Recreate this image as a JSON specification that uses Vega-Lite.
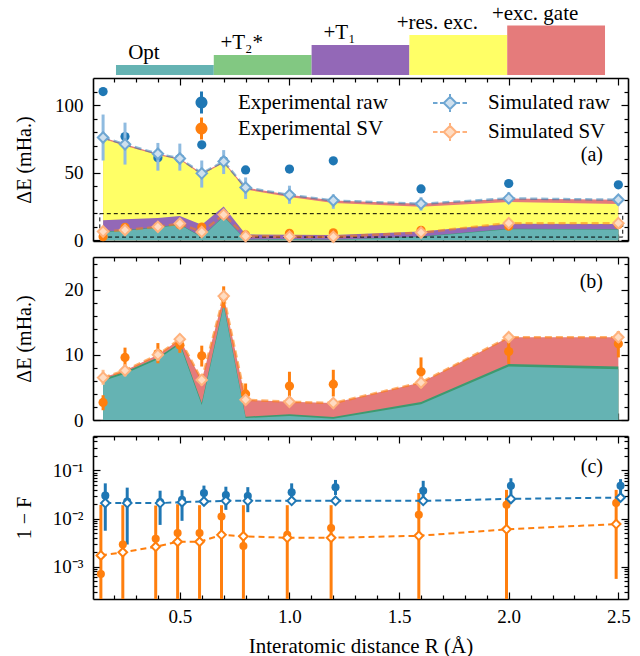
{
  "$schema": "https://vega.github.io/schema/vega-lite/v6.json",
  "padding": {"left": 14, "top": 2, "right": 5, "bottom": 0},
  "bounds": "flush",
  "spacing": 16,
  "datasets": {
    "d": [
      {"R":0.15,"opt":6.0,"t2":6.3,"t1":14.8,"res":75,"sr":76,"sr_lo":59,"sr_hi":93,"er":110,"ssv":6.5,"ssv_lo":5.4,"ssv_hi":7.7,"esv":2.7,"esv_lo":1.5,"esv_hi":3.8,"cbe":0.030,"cbe_lo":0.0056,"cbe_hi":0.054,"cbs":0.021,"coe":0.00071,"coe_lo":0.0001,"coe_hi":0.0193,"cos":0.00172},
      {"R":0.25,"opt":7.1,"t2":7.4,"t1":15.5,"res":70,"sr":71,"sr_lo":56,"sr_hi":87,"er":76.7,"ssv":7.6,"ssv_lo":6.7,"ssv_hi":8.5,"esv":9.6,"esv_lo":8.2,"esv_hi":11.1,"cbe":0.0227,"cbe_lo":0.0029,"cbe_hi":0.044,"cbs":0.021,"coe":0.0029,"coe_lo":0.0001,"coe_hi":0.019,"cos":0.0020},
      {"R":0.4,"opt":9.3,"t2":9.6,"t1":16.5,"res":63,"sr":64,"sr_lo":51.5,"sr_hi":72,"er":61,"ssv":10.0,"ssv_lo":9.1,"ssv_hi":10.9,"esv":10.2,"esv_lo":8.7,"esv_hi":11.8,"cbe":0.022,"cbe_lo":0.0074,"cbe_hi":0.038,"cbs":0.021,"coe":0.0038,"coe_lo":0.0001,"coe_hi":0.0187,"cos":0.0026},
      {"R":0.5,"opt":11.6,"t2":11.9,"t1":18,"res":59.5,"sr":60.5,"sr_lo":51.5,"sr_hi":71.5,"er":60.5,"ssv":12.4,"ssv_lo":11.6,"ssv_hi":13.2,"esv":11.5,"esv_lo":10.3,"esv_hi":12.8,"cbe":0.0246,"cbe_lo":0.009,"cbe_hi":0.039,"cbs":0.022,"coe":0.005,"coe_lo":0.0001,"coe_hi":0.0199,"cos":0.0033},
      {"R":0.6,"opt":2.3,"t2":2.6,"t1":11.6,"res":48.5,"sr":49.5,"sr_lo":39,"sr_hi":59,"er":70.6,"ssv":6.15,"ssv_lo":5.3,"ssv_hi":7.0,"esv":9.85,"esv_lo":8.2,"esv_hi":11.4,"cbe":0.034,"cbe_lo":0.0227,"cbe_hi":0.0485,"cbs":0.0227,"coe":0.005,"coe_lo":0.0001,"coe_hi":0.019,"cos":0.0033},
      {"R":0.7,"opt":17.5,"t2":17.8,"t1":25,"res":57.3,"sr":58.3,"sr_lo":49,"sr_hi":66.7,"er":58.8,"ssv":19.0,"ssv_lo":18.2,"ssv_hi":19.8,"esv":18.9,"esv_lo":17.2,"esv_hi":20.5,"cbe":0.031,"cbe_lo":0.0152,"cbe_hi":0.046,"cbs":0.0234,"coe":0.011,"coe_lo":0.0001,"coe_hi":0.019,"cos":0.0046},
      {"R":0.8,"opt":0.3,"t2":0.5,"t1":4.4,"res":37.5,"sr":39,"sr_lo":30.6,"sr_hi":46.5,"er":52,"ssv":3.1,"ssv_lo":2.3,"ssv_hi":3.9,"esv":4.0,"esv_lo":2.6,"esv_hi":5.6,"cbe":0.0296,"cbe_lo":0.0136,"cbe_hi":0.045,"cbs":0.0234,"coe":0.0027,"coe_lo":0.0001,"coe_hi":0.019,"cos":0.0043},
      {"R":1.0,"opt":0.6,"t2":0.9,"t1":4.2,"res":32,"sr":33.6,"sr_lo":27,"sr_hi":40.4,"er":52.7,"ssv":2.8,"ssv_lo":2.0,"ssv_hi":3.6,"esv":5.2,"esv_lo":3.1,"esv_hi":7.4,"cbe":0.0354,"cbe_lo":0.0227,"cbe_hi":0.054,"cbs":0.0234,"coe":0.0046,"coe_lo":0.0001,"coe_hi":0.019,"cos":0.004},
      {"R":1.2,"opt":0.2,"t2":0.45,"t1":4,"res":27.5,"sr":29.4,"sr_lo":23.3,"sr_hi":34,"er":58.8,"ssv":2.6,"ssv_lo":1.8,"ssv_hi":3.4,"esv":5.5,"esv_lo":3.6,"esv_hi":7.7,"cbe":0.0449,"cbe_lo":0.031,"cbe_hi":0.0636,"cbs":0.0234,"coe":0.0064,"coe_lo":0.0001,"coe_hi":0.019,"cos":0.004},
      {"R":1.6,"opt":2.4,"t2":2.75,"t1":6.5,"res":24.8,"sr":27,"sr_lo":22,"sr_hi":31.8,"er":38,"ssv":5.75,"ssv_lo":4.9,"ssv_hi":6.6,"esv":7.4,"esv_lo":5.6,"esv_hi":9.6,"cbe":0.038,"cbe_lo":0.0288,"cbe_hi":0.061,"cbs":0.0234,"coe":0.012,"coe_lo":0.0001,"coe_hi":0.034,"cos":0.0044},
      {"R":2.0,"opt":8.2,"t2":8.6,"t1":12.3,"res":28.3,"sr":31,"sr_lo":27,"sr_hi":35.5,"er":42,"ssv":12.7,"ssv_lo":11.9,"ssv_hi":13.5,"esv":10.5,"esv_lo":8.6,"esv_hi":12.2,"cbe":0.048,"cbe_lo":0.031,"cbe_hi":0.069,"cbs":0.0257,"coe":0.0193,"coe_lo":0.0001,"coe_hi":0.0395,"cos":0.006},
      {"R":2.5,"opt":7.8,"t2":8.2,"t1":12,"res":26.8,"sr":30,"sr_lo":25.7,"sr_hi":33,"er":41,"ssv":12.7,"ssv_lo":11.9,"ssv_hi":13.6,"esv":11.7,"esv_lo":9.6,"esv_hi":13.6,"cbe":0.048,"cbe_lo":0.031,"cbe_hi":0.066,"cbs":0.0274,"coe":0.021,"coe_lo":0.00056,"coe_hi":0.0395,"cos":0.0077}
    ],
    "box": [{"x1": 0.135, "x2": 2.52, "y1": 2.4, "y2": 19.7}],
    "strip": [
      {"level": "Opt", "n": 1},
      {"level": "+T₂*", "n": 2},
      {"level": "+T₁", "n": 3},
      {"level": "+res. exc.", "n": 4},
      {"level": "+exc. gate", "n": 4.95}
    ]
  },
  "data": {"name": "d"},
  "resolve": {"scale": {"color": "independent", "fill": "independent", "stroke": "independent"}},
  "vconcat": [
    {
      "data": {"name": "strip"},
      "width": 535,
      "height": 37,
      "view": {"stroke": null},
      "layer": [
        {
          "mark": {"type": "bar"},
          "encoding": {
            "x": {"field": "level", "type": "nominal", "sort": null, "scale": {"type": "band", "paddingInner": 0, "paddingOuter": 0.235}, "axis": null},
            "y": {"field": "n", "type": "quantitative", "scale": {"domain": [1.3, 5], "nice": false, "zero": false}, "axis": null},
            "y2": {"datum": 0},
            "color": {"field": "level", "type": "nominal", "sort": null, "scale": {"domain": ["Opt", "+T₂*", "+T₁", "+res. exc.", "+exc. gate"], "range": ["#65b3b3", "#82c882", "#9368b7", "#ffff66", "#e57b7b"]}, "legend": null}
          }
        },
        {
          "mark": {"type": "text", "baseline": "bottom", "dy": -2, "dx": -21, "fontSize": 21, "font": "Liberation Serif", "color": "black"},
          "encoding": {
            "x": {"field": "level", "type": "nominal", "sort": null, "axis": null},
            "y": {"field": "n", "type": "quantitative", "axis": null},
            "text": {"field": "level"}
          }
        }
      ]
    },
    {
      "width": 535,
      "height": 163,
      "title": {"text": "(a)", "orient": "top", "anchor": "end", "frame": "group", "offset": -98, "dx": -25, "baseline": "middle"},
      "resolve": {"axis": {"x": "independent", "y": "independent"}},
      "layer": [
        {
          "mark": {"type": "area", "color": "#e57b7b"},
          "encoding": {
            "x": {"field": "R", "type": "quantitative", "scale": {"domain": [0.104, 2.544], "nice": false, "zero": false}, "axis": {"orient": "bottom", "values": [0.5,1,1.5,2,2.5], "tickSize": -7, "labels": false, "title": null, "domain": true}},
            "y": {"field": "sr", "type": "quantitative", "scale": {"domain": [-0.5, 120], "nice": false, "zero": false}, "axis": {"orient": "left", "values": [0,50,100], "tickSize": -7, "labels": true, "labelPadding": 17, "title": "ΔE (mHa.)", "titleX": -69, "titleBaseline": "middle", "domain": true}},
            "y2": {"datum": 0}
          }
        },
        {
          "mark": {"type": "area", "color": "#ffff66"},
          "encoding": {
            "x": {"field": "R", "type": "quantitative", "axis": {"orient": "bottom", "values": [0.2,0.3,0.4,0.6,0.7,0.8,0.9,1.1,1.2,1.3,1.4,1.6,1.7,1.8,1.9,2.1,2.2,2.3,2.4], "tickSize": -4, "labels": false, "title": null, "domain": false}},
            "y": {"field": "res", "type": "quantitative", "axis": {"orient": "left", "values": [10,20,30,40,60,70,80,90,110], "tickSize": -4, "labels": false, "title": null, "domain": false}},
            "y2": {"datum": 0}
          }
        },
        {
          "mark": {"type": "area", "color": "#9368b7"},
          "encoding": {
            "x": {"field": "R", "type": "quantitative", "axis": {"orient": "top", "values": [0.5,1,1.5,2,2.5], "tickSize": -7, "labels": false, "title": null, "domain": true}},
            "y": {"field": "t1", "type": "quantitative", "axis": {"orient": "right", "values": [0,50,100], "tickSize": -7, "labels": false, "title": null, "domain": true}},
            "y2": {"datum": 0}
          }
        },
        {
          "mark": {"type": "area", "color": "#3d9a70"},
          "encoding": {
            "x": {"field": "R", "type": "quantitative", "axis": {"orient": "top", "values": [0.2,0.3,0.4,0.6,0.7,0.8,0.9,1.1,1.2,1.3,1.4,1.6,1.7,1.8,1.9,2.1,2.2,2.3,2.4], "tickSize": -4, "labels": false, "title": null, "domain": false}},
            "y": {"field": "t2", "type": "quantitative", "axis": {"orient": "right", "values": [10,20,30,40,60,70,80,90,110], "tickSize": -4, "labels": false, "title": null, "domain": false}},
            "y2": {"datum": 0}
          }
        },
        {
          "mark": {"type": "area", "color": "#65b3b3"},
          "encoding": {
            "x": {"field": "R", "type": "quantitative", "axis": null},
            "y": {"field": "opt", "type": "quantitative", "axis": null},
            "y2": {"datum": 0}
          }
        },
        {
          "data": {"name": "box"},
          "mark": {"type": "rect", "fill": null, "stroke": "black", "strokeWidth": 1, "strokeDash": [4, 3]},
          "encoding": {
            "x": {"field": "x1", "type": "quantitative", "axis": null},
            "x2": {"field": "x2"},
            "y": {"field": "y1", "type": "quantitative", "axis": null},
            "y2": {"field": "y2"}
          }
        },
        {
          "mark": {"type": "circle", "size": 85, "opacity": 1},
          "encoding": {
            "x": {"field": "R", "type": "quantitative", "axis": null},
            "y": {"field": "er", "type": "quantitative", "axis": null},
            "color": {"datum": "Experimental raw", "scale": {"domain": ["Experimental raw", "Experimental SV"], "range": ["#1f77b4", "#ff7f0e"]},
              "legend": {"title": null, "orient": "none", "legendX": 98, "legendY": 14, "symbolType": "M-0.15,-1.1H0.15V1.1H-0.15Z M0.6,0A0.6,0.6,0,1,1,-0.6,0A0.6,0.6,0,1,1,0.6,0Z", "symbolStrokeWidth": 0, "symbolOpacity": 1, "symbolSize": 400, "labelOffset": 26, "rowPadding": 3, "padding": 0, "labelFontSize": 21}}
          }
        },
        {
          "mark": {"type": "rule", "color": "#ff7f0e", "strokeWidth": 3},
          "encoding": {
            "x": {"field": "R", "type": "quantitative", "axis": null},
            "y": {"field": "esv_lo", "type": "quantitative", "axis": null},
            "y2": {"field": "esv_hi"}
          }
        },
        {
          "mark": {"type": "circle", "size": 85, "opacity": 1},
          "encoding": {
            "x": {"field": "R", "type": "quantitative", "axis": null},
            "y": {"field": "esv", "type": "quantitative", "axis": null},
            "color": {"datum": "Experimental SV"}
          }
        },
        {
          "mark": {"type": "rule", "color": "#8fbbe0", "strokeWidth": 3},
          "encoding": {
            "x": {"field": "R", "type": "quantitative", "axis": null},
            "y": {"field": "sr_lo", "type": "quantitative", "axis": null},
            "y2": {"field": "sr_hi"}
          }
        },
        {
          "mark": {"type": "line", "color": "#1f77b4", "opacity": 0.5, "strokeWidth": 2.5, "strokeDash": [7, 4]},
          "encoding": {
            "x": {"field": "R", "type": "quantitative", "axis": null},
            "y": {"field": "sr", "type": "quantitative", "axis": null}
          }
        },
        {
          "mark": {"type": "rule", "color": "#ffc08e", "strokeWidth": 3},
          "encoding": {
            "x": {"field": "R", "type": "quantitative", "axis": null},
            "y": {"field": "ssv_lo", "type": "quantitative", "axis": null},
            "y2": {"field": "ssv_hi"}
          }
        },
        {
          "mark": {"type": "line", "color": "#ff7f0e", "opacity": 0.55, "strokeWidth": 2.5, "strokeDash": [7, 4]},
          "encoding": {
            "x": {"field": "R", "type": "quantitative", "axis": null},
            "y": {"field": "ssv", "type": "quantitative", "axis": null}
          }
        },
        {
          "mark": {"type": "point", "shape": "diamond", "filled": true, "size": 110, "strokeWidth": 2, "opacity": 1},
          "encoding": {
            "x": {"field": "R", "type": "quantitative", "axis": null},
            "y": {"field": "sr", "type": "quantitative", "axis": null},
            "stroke": {"datum": "Simulated raw", "scale": {"domain": ["Simulated raw", "Simulated SV"], "range": ["#6ea6d2", "#ffb27d"]},
              "legend": {"title": null, "orient": "none", "legendX": 346, "legendY": 14, "symbolType": "M-1.7,0H-1.25M-1,0H-0.62M0.62,0H1M1.25,0H1.7M0,-0.9V-0.62M0,0.62V0.9M0,-0.62L0.62,0L0,0.62L-0.62,0Z", "symbolStrokeWidth": 2, "symbolOpacity": 1, "symbolSize": 400, "labelOffset": 27, "rowPadding": 3, "padding": 0, "labelFontSize": 21}},
            "fill": {"datum": "Simulated raw", "scale": {"domain": ["Simulated raw", "Simulated SV"], "range": ["#cfe0ee", "#ffdcc2"]},
              "legend": {"title": null, "orient": "none", "legendX": 346, "legendY": 14, "symbolType": "M-1.7,0H-1.25M-1,0H-0.62M0.62,0H1M1.25,0H1.7M0,-0.9V-0.62M0,0.62V0.9M0,-0.62L0.62,0L0,0.62L-0.62,0Z", "symbolStrokeWidth": 2, "symbolOpacity": 1, "symbolSize": 400, "labelOffset": 27, "rowPadding": 3, "padding": 0, "labelFontSize": 21}}
          }
        },
        {
          "mark": {"type": "point", "shape": "diamond", "filled": true, "size": 110, "strokeWidth": 2, "opacity": 1},
          "encoding": {
            "x": {"field": "R", "type": "quantitative", "axis": null},
            "y": {"field": "ssv", "type": "quantitative", "axis": null},
            "stroke": {"datum": "Simulated SV"},
            "fill": {"datum": "Simulated SV"}
          }
        }
      ]
    },
    {
      "width": 535,
      "height": 163,
      "title": {"text": "(b)", "orient": "top", "anchor": "end", "frame": "group", "offset": -46, "dx": -25, "baseline": "middle"},
      "resolve": {"axis": {"x": "independent", "y": "independent"}},
      "layer": [
        {
          "mark": {"type": "area", "color": "#e57b7b"},
          "encoding": {
            "x": {"field": "R", "type": "quantitative", "scale": {"domain": [0.104, 2.544], "nice": false, "zero": false}, "axis": {"orient": "bottom", "values": [0.5,1,1.5,2,2.5], "tickSize": -7, "labels": false, "title": null, "domain": true}},
            "y": {"field": "ssv", "type": "quantitative", "scale": {"domain": [0, 25], "nice": false, "zero": false}, "axis": {"orient": "left", "values": [0,10,20], "tickSize": -7, "labels": true, "labelPadding": 17, "title": "ΔE (mHa.)", "titleX": -69, "titleBaseline": "middle", "domain": true}},
            "y2": {"datum": 0}
          }
        },
        {
          "mark": {"type": "area", "color": "#3d9a70"},
          "encoding": {
            "x": {"field": "R", "type": "quantitative", "axis": {"orient": "bottom", "values": [0.2,0.3,0.4,0.6,0.7,0.8,0.9,1.1,1.2,1.3,1.4,1.6,1.7,1.8,1.9,2.1,2.2,2.3,2.4], "tickSize": -4, "labels": false, "title": null, "domain": false}},
            "y": {"field": "t2", "type": "quantitative", "axis": {"orient": "left", "values": [2,4,6,8,12,14,16,18,22,24], "tickSize": -4, "labels": false, "title": null, "domain": false}},
            "y2": {"datum": 0}
          }
        },
        {
          "mark": {"type": "area", "color": "#65b3b3"},
          "encoding": {
            "x": {"field": "R", "type": "quantitative", "axis": {"orient": "top", "values": [0.5,1,1.5,2,2.5], "tickSize": -7, "labels": false, "title": null, "domain": true}},
            "y": {"field": "opt", "type": "quantitative", "axis": {"orient": "right", "values": [0,10,20], "tickSize": -7, "labels": false, "title": null, "domain": true}},
            "y2": {"datum": 0}
          }
        },
        {
          "mark": {"type": "rule", "color": "#ff7f0e", "strokeWidth": 3},
          "encoding": {
            "x": {"field": "R", "type": "quantitative", "axis": {"orient": "top", "values": [0.2,0.3,0.4,0.6,0.7,0.8,0.9,1.1,1.2,1.3,1.4,1.6,1.7,1.8,1.9,2.1,2.2,2.3,2.4], "tickSize": -4, "labels": false, "title": null, "domain": false}},
            "y": {"field": "esv_lo", "type": "quantitative", "axis": {"orient": "right", "values": [2,4,6,8,12,14,16,18,22,24], "tickSize": -4, "labels": false, "title": null, "domain": false}},
            "y2": {"field": "esv_hi"}
          }
        },
        {
          "mark": {"type": "circle", "size": 85, "opacity": 1, "color": "#ff7f0e"},
          "encoding": {
            "x": {"field": "R", "type": "quantitative", "axis": null},
            "y": {"field": "esv", "type": "quantitative", "axis": null}
          }
        },
        {
          "mark": {"type": "rule", "color": "#ffc08e", "strokeWidth": 3},
          "encoding": {
            "x": {"field": "R", "type": "quantitative", "axis": null},
            "y": {"field": "ssv_lo", "type": "quantitative", "axis": null},
            "y2": {"field": "ssv_hi"}
          }
        },
        {
          "mark": {"type": "line", "color": "#ff7f0e", "opacity": 0.6, "strokeWidth": 2.5, "strokeDash": [7, 4]},
          "encoding": {
            "x": {"field": "R", "type": "quantitative", "axis": null},
            "y": {"field": "ssv", "type": "quantitative", "axis": null}
          }
        },
        {
          "mark": {"type": "point", "shape": "diamond", "filled": true, "size": 110, "strokeWidth": 2, "opacity": 1, "fill": "#ffdcc2", "stroke": "#ffb27d"},
          "encoding": {
            "x": {"field": "R", "type": "quantitative", "axis": null},
            "y": {"field": "ssv", "type": "quantitative", "axis": null}
          }
        }
      ]
    },
    {
      "width": 535,
      "height": 163,
      "title": {"text": "(c)", "orient": "top", "anchor": "end", "frame": "group", "offset": -52, "dx": -25, "baseline": "middle"},
      "resolve": {"axis": {"x": "independent", "y": "independent"}},
      "layer": [
        {
          "mark": {"type": "rule", "color": "#1f77b4", "strokeWidth": 3, "clip": true, "xOffset": 2.2},
          "encoding": {
            "x": {"field": "R", "type": "quantitative", "scale": {"domain": [0.104, 2.544], "nice": false, "zero": false}, "axis": {"orient": "bottom", "values": [0.5,1,1.5,2,2.5], "tickSize": -7, "labels": true, "format": ".1f", "labelPadding": 15, "title": "Interatomic distance R (Å)", "titleFontSize": 21, "titleY": 47, "titleBaseline": "middle", "domain": true}},
            "y": {"field": "cbe_lo", "type": "quantitative", "scale": {"type": "log", "domain": [0.000214, 0.52], "nice": false}, "axis": {"orient": "left", "values": [0.001, 0.01, 0.1], "tickSize": -7, "labels": true, "labelPadding": 17, "labelExpr": "datum.value < 0.005 ? '10⁻³' : datum.value < 0.05 ? '10⁻²' : '10⁻¹'", "title": "1 − F", "titleX": -69, "titleBaseline": "middle", "domain": true}},
            "y2": {"field": "cbe_hi"}
          }
        },
        {
          "mark": {"type": "rule", "color": "#ff7f0e", "strokeWidth": 3, "clip": true, "xOffset": -2.2},
          "encoding": {
            "x": {"field": "R", "type": "quantitative", "scale": {"domain": [0.104, 2.544], "nice": false, "zero": false}, "axis": {"orient": "bottom", "values": [0.2,0.3,0.4,0.6,0.7,0.8,0.9,1.1,1.2,1.3,1.4,1.6,1.7,1.8,1.9,2.1,2.2,2.3,2.4], "tickSize": -4, "labels": false, "title": null, "domain": false}},
            "y": {"field": "coe_lo", "type": "quantitative", "scale": {"type": "log", "domain": [0.000214, 0.52], "nice": false}, "axis": {"orient": "left", "values": [0.0003,0.0004,0.0005,0.0006,0.0007,0.0008,0.0009,0.002,0.003,0.004,0.005,0.006,0.007,0.008,0.009,0.02,0.03,0.04,0.05,0.06,0.07,0.08,0.09,0.2,0.3,0.4,0.5], "tickSize": -4, "labels": false, "title": null, "domain": false}},
            "y2": {"field": "coe_hi"}
          }
        },
        {
          "mark": {"type": "circle", "size": 65, "opacity": 1, "color": "#1f77b4", "xOffset": 2.2},
          "encoding": {
            "x": {"field": "R", "type": "quantitative", "scale": {"domain": [0.104, 2.544], "nice": false, "zero": false}, "axis": {"orient": "top", "values": [0.5,1,1.5,2,2.5], "tickSize": -7, "labels": false, "title": null, "domain": true}},
            "y": {"field": "cbe", "type": "quantitative", "scale": {"type": "log", "domain": [0.000214, 0.52], "nice": false}, "axis": {"orient": "right", "values": [0.001, 0.01, 0.1], "tickSize": -7, "labels": false, "title": null, "domain": true}}
          }
        },
        {
          "mark": {"type": "circle", "size": 65, "opacity": 1, "color": "#ff7f0e", "xOffset": -2.2},
          "encoding": {
            "x": {"field": "R", "type": "quantitative", "scale": {"domain": [0.104, 2.544], "nice": false, "zero": false}, "axis": {"orient": "top", "values": [0.2,0.3,0.4,0.6,0.7,0.8,0.9,1.1,1.2,1.3,1.4,1.6,1.7,1.8,1.9,2.1,2.2,2.3,2.4], "tickSize": -4, "labels": false, "title": null, "domain": false}},
            "y": {"field": "coe", "type": "quantitative", "scale": {"type": "log", "domain": [0.000214, 0.52], "nice": false}, "axis": {"orient": "right", "values": [0.0003,0.0004,0.0005,0.0006,0.0007,0.0008,0.0009,0.002,0.003,0.004,0.005,0.006,0.007,0.008,0.009,0.02,0.03,0.04,0.05,0.06,0.07,0.08,0.09,0.2,0.3,0.4,0.5], "tickSize": -4, "labels": false, "title": null, "domain": false}}
          }
        },
        {
          "mark": {"type": "line", "color": "#1f77b4", "strokeWidth": 2, "strokeDash": [6, 4], "xOffset": 2.2},
          "encoding": {
            "x": {"field": "R", "type": "quantitative", "axis": null},
            "y": {"field": "cbs", "type": "quantitative", "axis": null}
          }
        },
        {
          "mark": {"type": "line", "color": "#ff7f0e", "strokeWidth": 2, "strokeDash": [6, 4], "xOffset": -2.2},
          "encoding": {
            "x": {"field": "R", "type": "quantitative", "axis": null},
            "y": {"field": "cos", "type": "quantitative", "axis": null}
          }
        },
        {
          "mark": {"type": "point", "shape": "diamond", "filled": true, "size": 75, "strokeWidth": 2, "opacity": 1, "fill": "white", "stroke": "#1f77b4", "xOffset": 2.2},
          "encoding": {
            "x": {"field": "R", "type": "quantitative", "axis": null},
            "y": {"field": "cbs", "type": "quantitative", "axis": null}
          }
        },
        {
          "mark": {"type": "point", "shape": "diamond", "filled": true, "size": 75, "strokeWidth": 2, "opacity": 1, "fill": "white", "stroke": "#ff7f0e", "xOffset": -2.2},
          "encoding": {
            "x": {"field": "R", "type": "quantitative", "axis": null},
            "y": {"field": "cos", "type": "quantitative", "axis": null}
          }
        }
      ]
    }
  ],
  "config": {
    "font": "Liberation Serif",
    "view": {"stroke": null},
    "axis": {"labelFont": "Liberation Serif", "labelFontSize": 19, "labelColor": "black", "titleFont": "Liberation Serif", "titleFontSize": 20, "titleFontWeight": "normal", "titleColor": "black", "tickColor": "black", "tickWidth": 1.2, "domainColor": "black", "domainWidth": 1.6, "grid": false, "zindex": 1, "labelFlush": false, "labelOverlap": false},
    "legend": {"labelFont": "Liberation Serif", "labelFontSize": 21, "labelColor": "black"},
    "title": {"font": "Liberation Serif", "fontSize": 20, "fontWeight": "normal", "color": "black"}
  }
}
